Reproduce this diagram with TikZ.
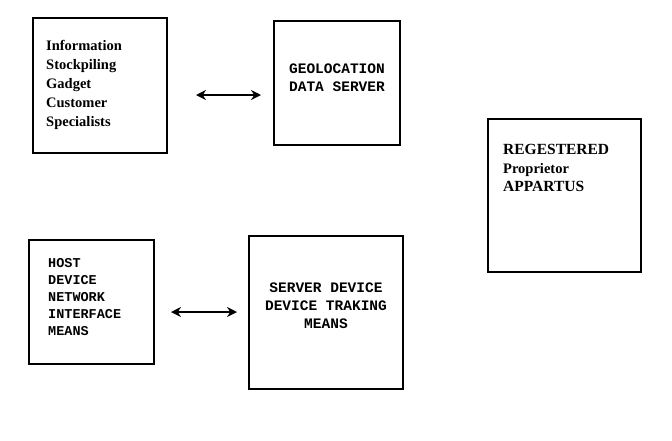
\documentclass[tikz,border=0pt]{standalone}
\usepackage{fontspec}
\setmainfont{Liberation Serif}
\newfontfamily\monof{Liberation Mono}
\usetikzlibrary{arrows.meta}
\begin{document}
\begin{tikzpicture}[x=1pt,y=-1pt,
  box/.style={draw=black,line width=2pt,rectangle,inner sep=0pt},
  lbl/.style={inner sep=0pt,align=left,anchor=north west},
  cl/.style={inner sep=0pt,anchor=base west,font=\bfseries\fontsize{15.5}{19}\selectfont},
  dbl/.style={{Stealth[length=10pt,width=10pt]}-{Stealth[length=10pt,width=10pt]},line width=1.8pt}]
\useasboundingbox[fill=white] (0,0) rectangle (672,440);
% boxes
\node[box,minimum width=134pt,minimum height=135pt] (a) at (100,85.5) {};
\node[box,minimum width=126pt,minimum height=124pt] (b) at (337,83) {};
\node[box,minimum width=153pt,minimum height=153pt] (c) at (564.5,195.5) {};
\node[box,minimum width=125pt,minimum height=124pt] (d) at (91.5,302) {};
\node[box,minimum width=154pt,minimum height=153pt] (e) at (326,312.5) {};
% texts
\node[lbl,font=\bfseries\fontsize{14.5}{19}\selectfont] (ta) at (46,40)
  {Information\\Stockpiling\\Gadget\\Customer\\Specialists};
\node[font=\monof\bfseries\fontsize{14.5}{18}\selectfont,align=center,inner sep=0pt] (tb) at (337,78)
  {GEOLOCATION\\DATA SERVER};
\node[cl] (tc1) at (503,154) {REGESTERED};
\node[cl,font=\bfseries\fontsize{14.5}{19}\selectfont] (tc2) at (503,173) {Proprietor};
\node[cl] (tc3) at (503,191) {APPARTUS};
\node[lbl,font=\monof\bfseries\fontsize{13.5}{17}\selectfont] (td) at (48,258)
  {HOST\\DEVICE\\NETWORK\\INTERFACE\\MEANS};
\node[font=\monof\bfseries\fontsize{14.5}{18}\selectfont,align=center,inner sep=0pt] (te) at (326,306)
  {SERVER DEVICE\\DEVICE TRAKING\\MEANS};
% connectors
\coordinate (p1) at (196,95);
\coordinate (p2) at (261,95);
\coordinate (q1) at (171,312);
\coordinate (q2) at (237,312);
\draw[dbl] (p1) -- (p2);
\draw[dbl] (q1) -- (q2);
\end{tikzpicture}
\end{document}
